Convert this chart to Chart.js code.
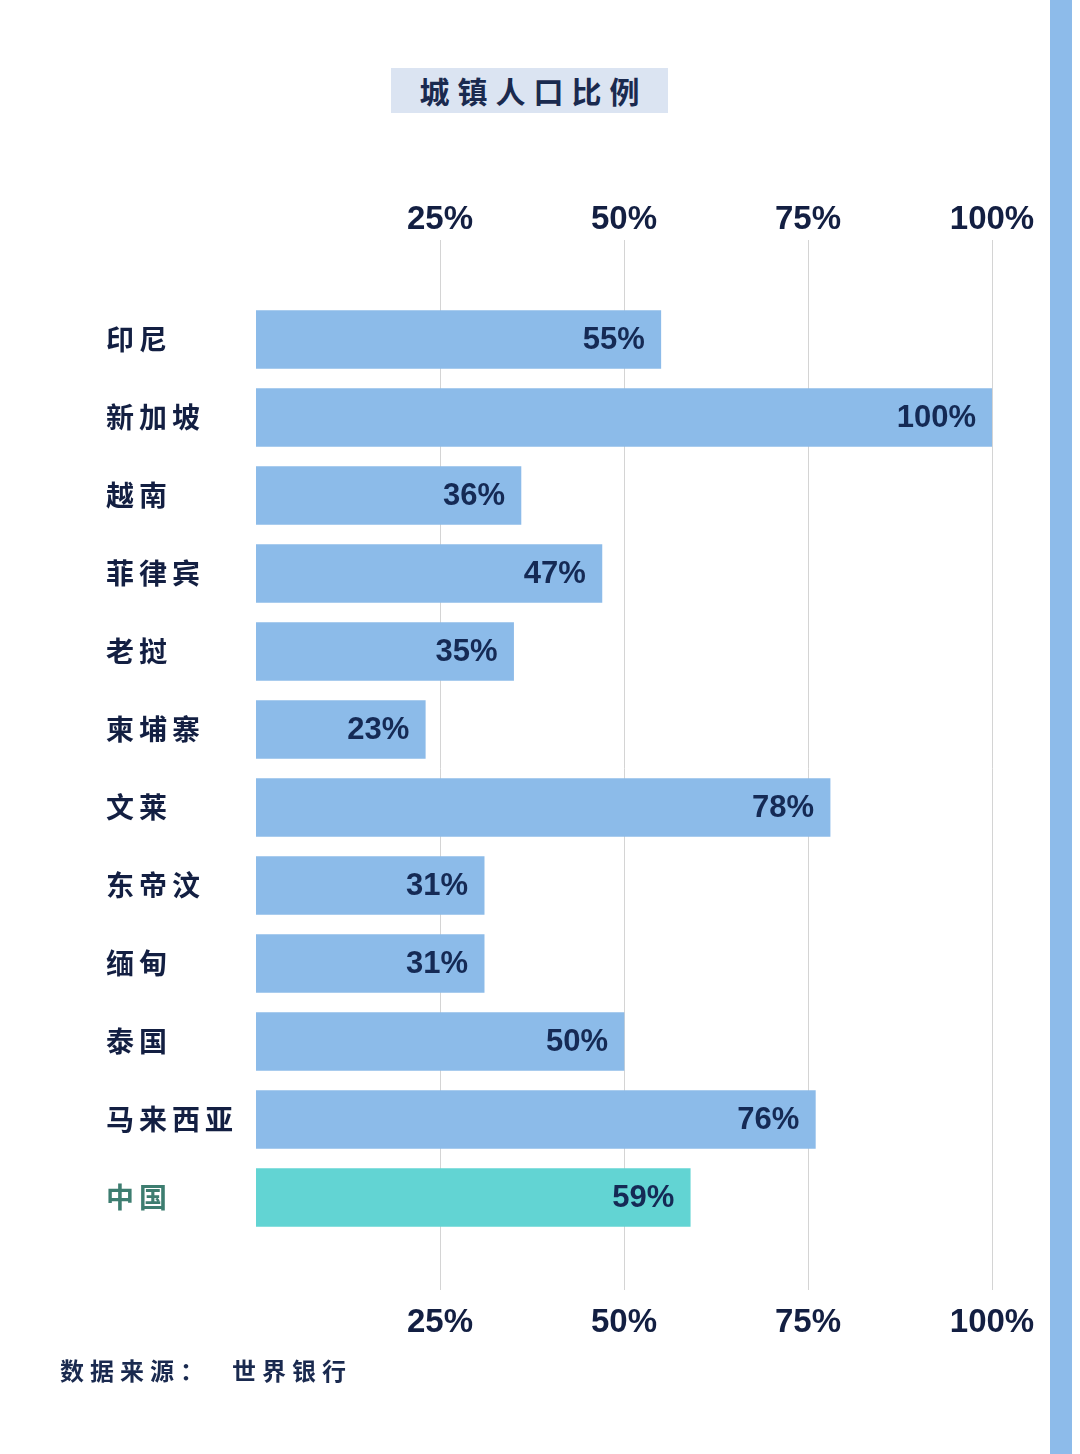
<!DOCTYPE html>
<html><head><meta charset="utf-8">
<script src="https://cdn.jsdelivr.net/npm/chart.js@4.4.1/dist/chart.umd.min.js"></script>
<style>
html,body{margin:0;padding:0;background:#fff;}
#wrap{position:relative;width:1080px;height:1454px;overflow:hidden;background:#fff;}
#c{position:absolute;left:0;top:0;}
#title{position:absolute;left:391px;top:68px;width:277px;height:45px;background:#dbe4f2;color:#1a2a4f;font:bold 30px "Noto Sans CJK SC",sans-serif;letter-spacing:8px;text-align:center;line-height:45px;padding-left:8px;box-sizing:border-box;}
#stripe{position:absolute;left:1050px;top:0;width:22px;height:1454px;background:#8dbbea;}
#src{position:absolute;left:60px;top:1352px;height:32px;line-height:32px;font:bold 24px "Noto Sans CJK SC",sans-serif;letter-spacing:6px;color:#1a2a4f;white-space:nowrap;}
#src span{display:inline-block;}
</style></head>
<body>
<div id="wrap">
  <canvas id="c" width="1080" height="1454"></canvas>
  <div id="title">城镇人口比例</div>
  <div id="stripe"></div>
  <div id="src"><span>数据来源：</span><span style="margin-left:22px">世界银行</span></div>
</div>
<script>
const categories = ['印尼','新加坡','越南','菲律宾','老挝','柬埔寨','文莱','东帝汶','缅甸','泰国','马来西亚','中国'];
const urbanShare = [55,100,36,47,35,23,78,31,31,50,76,59];
const tickValues = [25,50,75,100];
const highlight = '中国';

const NAVY = '#131f42';
const BLUE = '#8cbbe9';
const TEAL = '#62d4d3';
const GRID = '#d4d4d4';
const NUM_FONT = '"Liberation Sans", Arial, sans-serif';

const valueLabels = {
  id: 'valueLabels',
  afterDatasetsDraw(chart) {
    const ctx = chart.ctx;
    const meta = chart.getDatasetMeta(0);
    ctx.save();
    ctx.font = 'bold 31px ' + NUM_FONT;
    ctx.fillStyle = '#152a55';
    ctx.textAlign = 'right';
    ctx.textBaseline = 'middle';
    meta.data.forEach((el, i) => {
      ctx.fillText(urbanShare[i] + '%', el.x - 16, el.y + 1);
    });
    ctx.restore();
  }
};

// letter-spaced category labels, drawn by the y scale itself
const spacedYLabels = {
  id: 'spacedYLabels',
  afterLayout(chart) {
    const s = chart.scales.y;
    if (s && !s._spaced) {
      const orig = s.drawLabels.bind(s);
      s.drawLabels = function (area) {
        const c = this.ctx;
        const prev = c.letterSpacing;
        c.letterSpacing = '5px';
        orig(area);
        c.letterSpacing = prev || '0px';
      };
      s._spaced = true;
    }
  }
};

function setTicks(scale) {
  scale.ticks = tickValues.map(v => ({ value: v }));
}

new Chart(document.getElementById('c'), {
  type: 'bar',
  data: {
    labels: categories,
    datasets: [{
      data: urbanShare,
      backgroundColor: categories.map(c => c === highlight ? TEAL : BLUE),
      borderWidth: 0,
      barThickness: 58,
      xAxisID: 'x'
    }]
  },
  options: {
    indexAxis: 'y',
    responsive: false,
    animation: false,
    devicePixelRatio: 1,
    layout: { padding: { left: 106, right: 88, top: 200.4, bottom: 98.4 } },
    plugins: { legend: { display: false }, tooltip: { enabled: false } },
    scales: {
      x: {
        type: 'linear', position: 'bottom', min: 0, max: 100,
        afterBuildTicks: setTicks,
        border: { display: false },
        grid: { color: GRID, lineWidth: 1, drawOnChartArea: true, drawTicks: true, tickLength: 53.5 },
        ticks: { padding: 13, color: NAVY, font: { family: NUM_FONT, size: 33, weight: 'bold' }, callback: v => v + '%' }
      },
      x2: {
        type: 'linear', position: 'top', min: 0, max: 100,
        afterBuildTicks: setTicks,
        border: { display: false },
        grid: { color: GRID, lineWidth: 1, drawOnChartArea: false, drawTicks: true, tickLength: 60.5 },
        ticks: { padding: 0, color: NAVY, font: { family: NUM_FONT, size: 33, weight: 'bold' }, callback: v => v + '%' }
      },
      y: {
        type: 'category',
        grid: { display: false },
        border: { display: false },
        afterFit: s => { s.width = 150; },
        ticks: {
          crossAlign: 'far', padding: 0,
          color: ctx => categories[ctx.index] === highlight ? '#3d7d70' : NAVY,
          font: { family: '"Noto Sans CJK SC", sans-serif', size: 28, weight: 'bold' }
        }
      }
    }
  },
  plugins: [valueLabels, spacedYLabels]
});
</script>
</body></html>
